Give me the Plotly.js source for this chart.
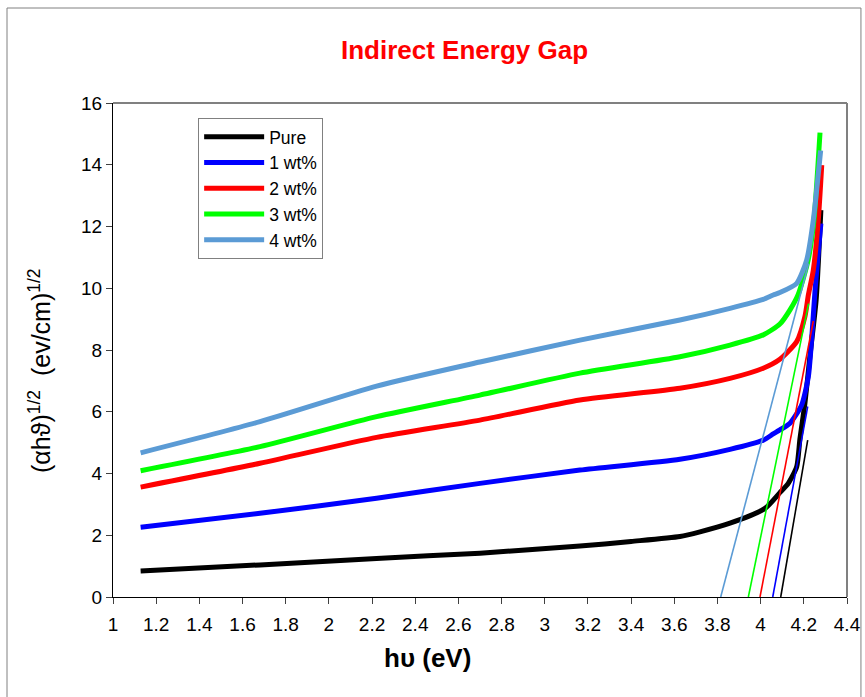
<!DOCTYPE html>
<html>
<head>
<meta charset="utf-8">
<script src="https://cdn.plot.ly/plotly-3.0.1.min.js"></script>
<style>
  html, body { margin: 0; padding: 0; background: #ffffff; }
  #chart { width: 865px; height: 697px; }
</style>
</head>
<body>
<div id="chart"></div>
<script>
// Photon energy hv (eV) and (alpha h v)^1/2 for each sample
const pureX = [1.128, 1.681, 2.221, 2.700, 3.163, 3.400, 3.626, 3.719, 3.858, 4.020, 4.089, 4.128, 4.167, 4.182, 4.205, 4.228, 4.257, 4.279];
const pureY = [0.84, 1.04, 1.25, 1.42, 1.65, 1.80, 1.96, 2.11, 2.39, 2.87, 3.38, 3.68, 4.22, 5.12, 6.27, 7.78, 9.62, 12.53];

const wt1X = [1.128, 1.681, 2.221, 2.700, 3.163, 3.626, 3.858, 4.012, 4.058, 4.089, 4.136, 4.190, 4.221, 4.236, 4.252, 4.279];
const wt1Y = [2.26, 2.71, 3.20, 3.68, 4.11, 4.46, 4.78, 5.08, 5.28, 5.41, 5.63, 6.22, 7.14, 8.32, 9.94, 12.10];

const wt2X = [1.128, 1.681, 2.221, 2.700, 3.163, 3.626, 3.858, 4.012, 4.089, 4.167, 4.205, 4.221, 4.244, 4.267, 4.283];
const wt2Y = [3.56, 4.33, 5.17, 5.73, 6.38, 6.76, 7.08, 7.41, 7.70, 8.27, 9.08, 9.78, 10.59, 12.21, 13.99];

const wt3X = [1.128, 1.681, 2.221, 2.700, 3.163, 3.626, 3.858, 4.012, 4.089, 4.136, 4.174, 4.220, 4.247, 4.275];
const wt3Y = [4.09, 4.87, 5.84, 6.54, 7.25, 7.78, 8.16, 8.49, 8.84, 9.30, 9.80, 10.91, 12.21, 15.04];

const wt4X = [1.128, 1.681, 2.221, 2.700, 3.163, 3.626, 3.858, 4.012, 4.058, 4.089, 4.167, 4.213, 4.244, 4.278];
const wt4Y = [4.67, 5.68, 6.83, 7.61, 8.32, 8.97, 9.35, 9.64, 9.78, 9.86, 10.16, 10.91, 12.21, 14.46];

// Linear extrapolations of the absorption edge down to the energy axis
const fitPureX = [4.093, 4.218];
const fitPureY = [0, 5.08];
const fit1X = [4.056, 4.218];
const fit1Y = [0, 6.17];
const fit2X = [3.997, 4.244];
const fit2Y = [0, 8.94];
const fit3X = [3.943, 4.222];
const fit3Y = [0, 9.50];
const fit4X = [3.815, 4.222];
const fit4Y = [0, 10.80];

const seriesNames = ['Pure', '1 wt%', '2 wt%', '3 wt%', '4 wt%'];
const seriesColors = ['#000000', '#0000ff', '#ff0000', '#00ff00', '#5b9bd5'];

const xTickVals = [1, 1.2, 1.4, 1.6, 1.8, 2, 2.2, 2.4, 2.6, 2.8, 3, 3.2, 3.4, 3.6, 3.8, 4, 4.2, 4.4];
const yTickVals = [0, 2, 4, 6, 8, 10, 12, 14, 16];

const curveX = [pureX, wt1X, wt2X, wt3X, wt4X];
const curveY = [pureY, wt1Y, wt2Y, wt3Y, wt4Y];
const fitX = [fitPureX, fit1X, fit2X, fit3X, fit4X];
const fitY = [fitPureY, fit1Y, fit2Y, fit3Y, fit4Y];

const traces = [];
for (let i = 0; i < seriesNames.length; i++) {
  traces.push({
    x: curveX[i], y: curveY[i], type: 'scatter', mode: 'lines',
    name: seriesNames[i],
    line: { color: seriesColors[i], width: 5, shape: 'spline', smoothing: 0.6 },
    hoverinfo: 'x+y'
  });
}
for (let i = 0; i < seriesNames.length; i++) {
  traces.push({
    x: fitX[i], y: fitY[i], type: 'scatter', mode: 'lines',
    showlegend: false,
    line: { color: seriesColors[i], width: 1.6 },
    hoverinfo: 'skip'
  });
}

const FONT = 'Arial, "Liberation Sans", sans-serif';

const layout = {
  width: 865, height: 697,
  margin: { l: 113, r: 18, t: 103, b: 100 },
  paper_bgcolor: '#ffffff', plot_bgcolor: '#ffffff',
  font: { family: FONT, color: '#000000' },
  title: {
    text: '<b>Indirect Energy Gap</b>',
    font: { family: FONT, size: 26, color: '#ff0000' },
    x: 0.537, xanchor: 'center', y: 0.928, yanchor: 'middle'
  },
  showlegend: true,
  legend: {
    x: 0.116, y: 0.970, xanchor: 'left', yanchor: 'top',
    bgcolor: '#ffffff', bordercolor: '#808080', borderwidth: 1,
    font: { family: FONT, size: 17.5, color: '#000000' },
    itemwidth: 60, tracegroupgap: 0
  },
  xaxis: {
    range: [1, 4.4], tickmode: 'array', tickvals: xTickVals,
    ticktext: xTickVals.map(String),
    showgrid: false, zeroline: false,
    showline: true, linecolor: '#000000', linewidth: 1,
    ticks: 'outside', ticklen: 6, tickcolor: '#404040', tickwidth: 1,
    ticklabelstandoff: 4,
    tickfont: { family: FONT, size: 19, color: '#000000' }
  },
  yaxis: {
    range: [0, 16], tickmode: 'array', tickvals: yTickVals,
    showgrid: false, zeroline: false,
    showline: true, linecolor: '#000000', linewidth: 1,
    ticks: 'outside', ticklen: 6, tickcolor: '#404040', tickwidth: 1,
    tickfont: { family: FONT, size: 19, color: '#000000' }
  },
  annotations: [
    {
      text: '<b>h\u03c5 (eV)</b>', xref: 'paper', yref: 'paper',
      x: 0.429, y: -0.1235, xanchor: 'center', yanchor: 'middle', showarrow: false,
      font: { family: FONT, size: 26, color: '#000000' }
    },
    {
      text: '(\u03b1h\u03d1)<sup>1/2</sup>  (ev/cm)<sup>1/2</sup>', xref: 'paper', yref: 'paper',
      x: -0.0995, y: 0.4595, xanchor: 'center', yanchor: 'middle', showarrow: false,
      textangle: -90,
      font: { family: FONT, size: 25, color: '#000000' }
    }
  ],
  shapes: [
    // plot-area frame on the top and right
    { type: 'line', xref: 'paper', yref: 'paper', x0: 0, x1: 1, y0: 1, y1: 1, line: { color: '#808080', width: 2 } },
    { type: 'line', xref: 'paper', yref: 'paper', x0: 1, x1: 1, y0: 0, y1: 1, line: { color: '#808080', width: 2 } },
    // outer chart border
    { type: 'rect', xref: 'paper', yref: 'paper', x0: -0.1444, x1: 1.019, y0: -0.2186, y1: 1.1923, line: { color: '#808080', width: 1 }, fillcolor: 'rgba(0,0,0,0)', layer: 'below' }
  ]
};

Plotly.newPlot('chart', traces, layout, { displayModeBar: false, staticPlot: true });
</script>
</body>
</html>
